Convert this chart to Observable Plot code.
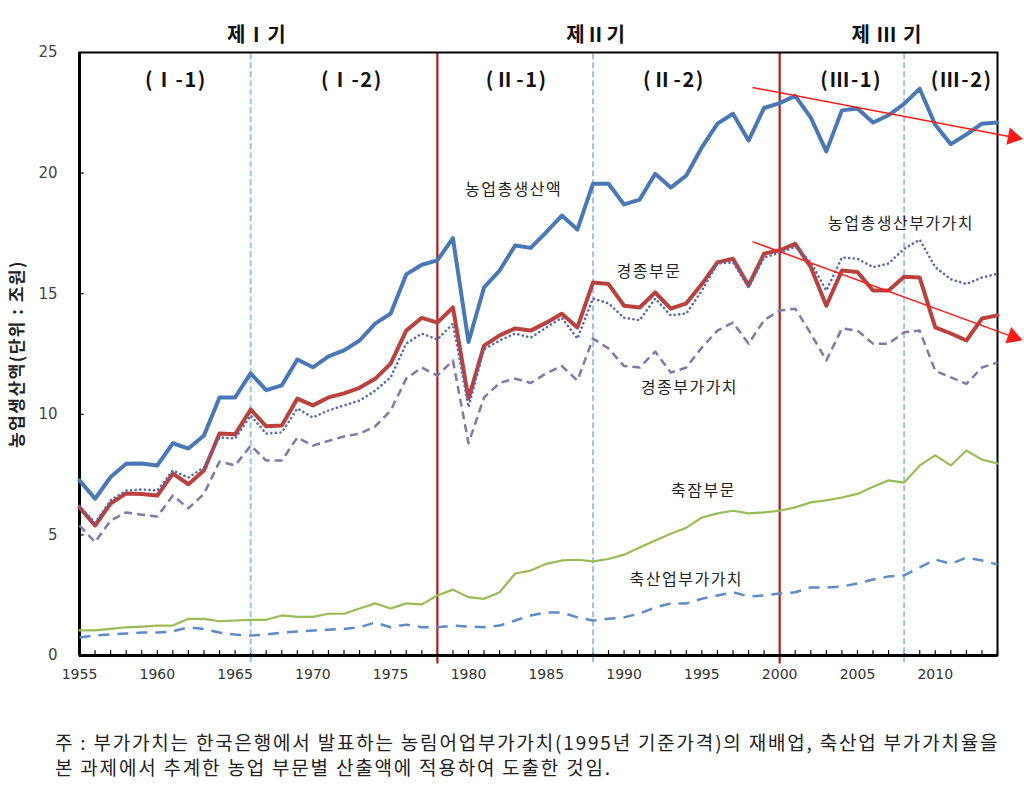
<!DOCTYPE html>
<html><head><meta charset="utf-8">
<script src="https://cdn.jsdelivr.net/npm/d3@7"></script>
<script src="https://cdn.jsdelivr.net/npm/@observablehq/plot@0.6"></script>
<style>
body{margin:0;background:#fff;font-family:"Noto Sans CJK KR","Noto Sans",sans-serif;}
#chart svg{display:block;}
#caption{margin:29px 0 0 55px;font-size:19px;line-height:25px;color:#222;font-family:"Noto Sans CJK KR",sans-serif;letter-spacing:1.8px;white-space:nowrap;}
</style></head><body>
<div id="chart"></div>
<div id="caption">주 : 부가가치는 한국은행에서 발표하는 농림어업부가가치(1995년 기준가격)의 재배업, 축산업 부가가치율을<br>본 과제에서 추계한 농업 부문별 산출액에 적용하여 도출한 것임.</div>
<script>
// ---- data ----
const years = d3.range(1955, 2015);
const totalOutput = [7.26,6.5,7.4,7.95,7.96,7.88,8.8,8.58,9.12,10.7,
  10.7,11.7,11.0,11.2,12.27,11.95,12.4,12.65,13.06,13.76,
  14.18,15.8,16.2,16.38,17.3,13.0,15.26,15.96,17.0,16.9,
  17.55,18.24,17.66,19.56,19.56,18.7,18.9,19.97,19.4,19.9,
  21.07,22.05,22.46,21.35,22.7,22.9,23.2,22.3,20.9,22.6,
  22.68,22.1,22.4,22.87,23.5,22.0,21.2,21.6,22.05,22.1];
const cropOutput = [6.14,5.39,6.3,6.72,6.7,6.63,7.54,7.1,7.67,9.2,
  9.17,10.2,9.5,9.54,10.65,10.37,10.7,10.87,11.1,11.47,
  12.1,13.47,14.0,13.8,14.43,10.65,12.85,13.27,13.56,13.47,
  13.8,14.17,13.6,15.46,15.4,14.5,14.43,15.05,14.38,14.6,
  15.4,16.3,16.45,15.34,16.66,16.8,17.07,16.1,14.5,15.96,
  15.9,15.13,15.13,15.7,15.67,13.6,13.35,13.06,13.97,14.1];
const totalValueAdded = [6.2,5.5,6.43,6.84,6.88,6.84,7.67,7.38,7.8,9.04,
  9.0,9.95,9.2,9.25,10.24,9.87,10.16,10.37,10.57,10.98,
  11.53,12.93,13.35,13.1,13.76,10.3,12.7,13.06,13.35,13.18,
  13.6,14.0,13.14,14.8,14.6,14.0,13.9,14.8,14.1,14.18,
  15.13,16.25,16.3,15.26,16.5,16.7,16.95,16.3,15.13,16.5,
  16.45,16.1,16.25,16.86,17.24,16.1,15.6,15.4,15.67,15.83];
const cropValueAdded = [5.39,4.7,5.6,5.93,5.84,5.76,6.63,6.1,6.7,8.04,
  7.88,8.7,8.08,8.08,9.04,8.7,8.9,9.08,9.2,9.5,
  10.16,11.48,11.94,11.6,12.23,8.8,10.7,11.3,11.48,11.3,
  11.7,12.0,11.4,13.14,12.73,12.0,11.94,12.6,11.73,11.94,
  12.77,13.47,13.8,12.93,13.9,14.3,14.38,13.35,12.23,13.56,
  13.47,12.93,12.93,13.4,13.47,11.8,11.53,11.26,11.94,12.15];
const livestockOutput = [1.04,1.04,1.1,1.17,1.2,1.24,1.24,1.52,1.52,1.42,
  1.45,1.48,1.48,1.66,1.6,1.6,1.73,1.73,1.95,2.16,
  1.95,2.16,2.12,2.49,2.73,2.42,2.35,2.62,3.4,3.52,
  3.8,3.94,3.97,3.9,4.0,4.18,4.48,4.77,5.05,5.3,
  5.72,5.89,6.0,5.89,5.93,6.0,6.14,6.35,6.43,6.55,
  6.7,7.0,7.26,7.17,7.88,8.3,7.88,8.5,8.12,7.96];
const livestockValueAdded = [0.75,0.83,0.87,0.91,0.95,0.95,1.0,1.17,1.1,0.95,
  0.87,0.83,0.87,0.95,0.99,1.04,1.07,1.1,1.17,1.37,
  1.17,1.28,1.17,1.17,1.24,1.2,1.17,1.24,1.45,1.66,
  1.78,1.78,1.58,1.45,1.52,1.58,1.74,1.99,2.16,2.16,
  2.35,2.49,2.62,2.45,2.49,2.57,2.62,2.82,2.82,2.86,
  2.99,3.15,3.28,3.32,3.65,3.98,3.8,4.06,3.94,3.77];
const xTickLabels = [1955,1960,1965,1970,1975,1980,1985,1990,1995,2000,2005,2010];
const yTickLabels = [0,5,10,15,20,25];
const periodBreaks = [1978, 2000];
const subPeriodBreaks = [1966, 1988, 2008];
const periodTitles = [
  {label:"제Ⅰ기", x:1966.4}, {label:"제Ⅱ기", x:1988.2}, {label:"제 Ⅲ 기", x:2006.9}];
const subPeriodLabels = [
  {label:"(Ⅰ-1)", x:1961.2}, {label:"(Ⅰ-2)", x:1972.5}, {label:"(Ⅱ-1)", x:1983.1},
  {label:"(Ⅱ-2)", x:1993.2}, {label:"(Ⅲ-1)", x:2004.6}, {label:"(Ⅲ-2)", x:2011.7}];
const seriesLabels = [
  {label:"농업총생산액", x:1982.9, y:19.3},
  {label:"경종부문", x:1991.6, y:15.9},
  {label:"농업총생산부가가치", x:2007.8, y:17.9},
  {label:"경종부가가치", x:1994.2, y:11.1},
  {label:"축잠부문", x:1995.1, y:6.84},
  {label:"축산업부가가치", x:1994.0, y:3.15}];
const yAxisTitle = ["농업생산액(단위 : 조원)"];
const trendArrows = [
  {x1:1998.25, y1:23.55, x2:2015.0, y2:21.49},
  {x1:1998.25, y1:17.16, x2:2015.0, y2:13.21}];

// ---- layout ----
const W = 1024, H = 700, mL = 79, mR = 27, mT = 52, mB = 45;
const table = years.map((year, i) => ({
  year, totalOutput: totalOutput[i], cropOutput: cropOutput[i],
  totalValueAdded: totalValueAdded[i], cropValueAdded: cropValueAdded[i],
  livestockOutput: livestockOutput[i], livestockValueAdded: livestockValueAdded[i]}));
const kx = (W - mL - mR) / (2014 - 1955), ky = (H - mT - mB) / 25;
const angle = d => 90 + Math.atan2((d.y1 - d.y2) * ky, (d.x2 - d.x1) * kx) * 180 / Math.PI;
const KFONT = '"Noto Sans CJK KR", sans-serif';

const chart = Plot.plot({
  width: W, height: H,
  marginLeft: mL, marginRight: mR, marginTop: mT, marginBottom: mB,
  style: {fontFamily: KFONT, background: "#fff", overflow: "visible"},
  x: {domain: [1955, 2014]},
  y: {domain: [0, 25]},
  marks: [
    Plot.axisX({ticks: xTickLabels, tickFormat: d => String(d), tickSize: 0, tickPadding: 14, fontSize: 14, fill: "#333", label: null, fontFamily: "DejaVu Sans"}),
    Plot.axisY({ticks: yTickLabels, tickSize: 0, tickPadding: 22, fontSize: 15, fill: "#444", label: null, fontFamily: "DejaVu Sans"}),
    // inner ticks
    Plot.ruleX(years, {x: d => d, y1: 0, y2: 0.2, stroke: "#000", strokeWidth: 1.2}),
    Plot.ruleY(yTickLabels, {y: d => d, x1: 1955, x2: 1955.3, stroke: "#000", strokeWidth: 1.2}),
    // period separators
    Plot.ruleX(subPeriodBreaks, {x: d => d, y1: -0.3, y2: 25, stroke: "#9dc3e6", strokeWidth: 2, strokeDasharray: "6,3"}),
    Plot.ruleX(periodBreaks, {x: d => d, y1: -0.35, y2: 25, stroke: "#b01c1c", strokeWidth: 2.2}),
    // frame
    Plot.frame({stroke: "#000", strokeWidth: 2}),
    Plot.ruleY([0], {stroke: "#000", strokeWidth: 3}),
    Plot.ruleX([1955], {stroke: "#000", strokeWidth: 3}),
    // series
    Plot.line(table, {x: "year", y: "livestockValueAdded", stroke: "#5f8bc6", strokeWidth: 2.5, strokeDasharray: "11,8", strokeLinecap: "butt"}),
    Plot.line(table, {x: "year", y: "livestockOutput", stroke: "#9bbb59", strokeWidth: 2.2}),
    Plot.line(table, {x: "year", y: "cropValueAdded", stroke: "#8377a6", strokeWidth: 2.5, strokeDasharray: "8,5", strokeLinecap: "butt"}),
    Plot.line(table, {x: "year", y: "cropOutput", stroke: "#b9423f", strokeWidth: 4}),
    Plot.line(table, {x: "year", y: "totalValueAdded", stroke: "#5a69a8", strokeWidth: 2.6, strokeDasharray: "0.1,4.5", strokeLinecap: "round"}),
    Plot.line(table, {x: "year", y: "totalOutput", stroke: "#4a78b4", strokeWidth: 4}),
    // trend arrows
    Plot.link(trendArrows, {x1: "x1", y1: "y1", x2: "x2", y2: "y2", stroke: "#ff1a1a", strokeWidth: 1.5}),
    Plot.dot(trendArrows, {x: "x2", y: "y2", symbol: "triangle", r: 6.5, fill: "#ff1a1a", stroke: "none", rotate: angle}),
    // labels (text marks: 0 titles, 1 sub-periods, 2 series, 3 y title)
    Plot.text(periodTitles, {x: "x", text: "label", frameAnchor: "top", dy: -25, fontSize: 20, fontWeight: "bold", fill: "#111", fontFamily: KFONT}),
    Plot.text(subPeriodLabels, {x: "x", text: "label", frameAnchor: "top", dy: 20, fontSize: 20, fontWeight: "bold", fill: "#111", fontFamily: KFONT}),
    Plot.text(seriesLabels, {x: "x", y: "y", text: "label", fontSize: 16, fill: "#222", fontFamily: KFONT}),
    Plot.text(yAxisTitle, {frameAnchor: "left", text: d => d, rotate: -90, textAnchor: "middle", dx: -62, fontSize: 17, fontWeight: "bold", fill: "#222", fontFamily: KFONT})
  ]
});
const textGroups = chart.querySelectorAll('g[aria-label="text"]');
const spacing = ["1px", "1.5px", "1.5px", "1.5px"];
textGroups.forEach((g, i) => { g.style.letterSpacing = spacing[i] || "0px"; });
document.getElementById("chart").appendChild(chart);
</script>
</body></html>
